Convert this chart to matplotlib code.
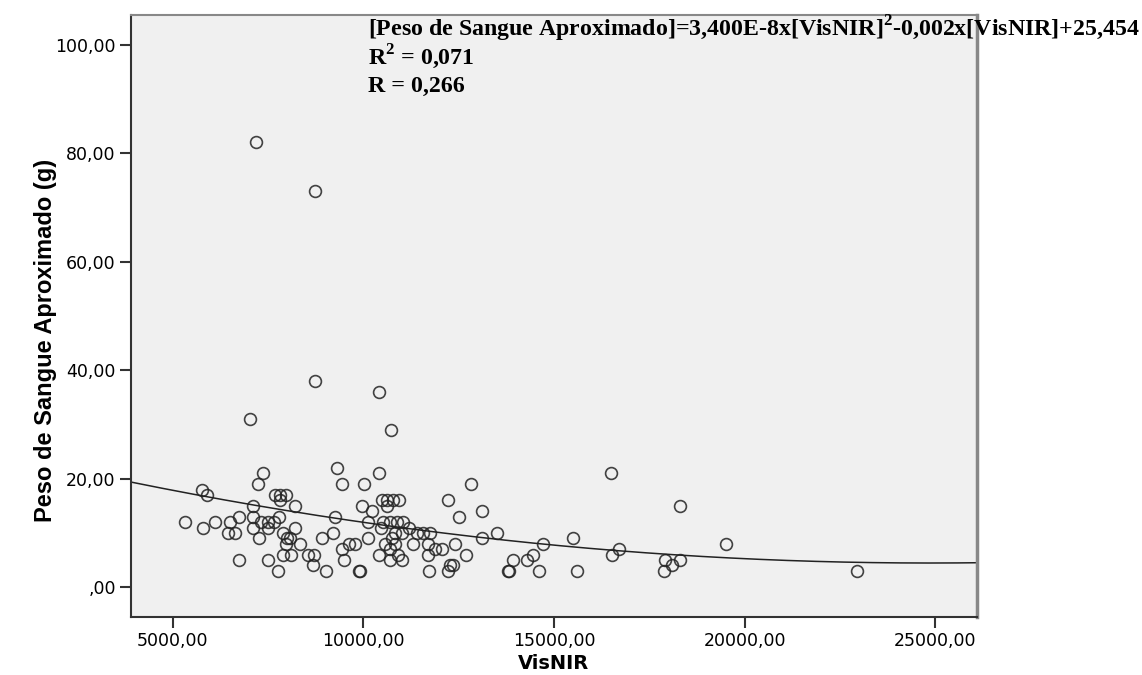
import numpy as np
import matplotlib
matplotlib.use("Agg")
from matplotlib import pyplot as plt
from matplotlib.ticker import FuncFormatter

# data (VisNIR vs blood weight in g)
visnir = [
    7180, 8727, 8719, 10407, 7013, 10713, 9304, 7370, 10407, 7223,
    9444, 10013, 5753, 5900, 7669, 7808, 7958, 7808, 8194, 7108,
    9969, 10494, 10625, 10766, 10924, 10625, 10231, 9252, 10110, 6724,
    7108, 7790, 5315, 6110, 6496, 7318, 7501, 7651, 10516, 10696,
    10871, 11045, 5796, 7108, 7501, 8194, 10472, 11199, 6444, 6619,
    7877, 9199, 10827, 11002, 11394, 11569, 11745, 7257, 7984, 8071,
    8902, 10110, 10740, 7966, 8341, 9628, 9777, 10565, 10827, 11307,
    11701, 9444, 10696, 11877, 7877, 8087, 8551, 8701, 10399, 10913,
    11701, 6724, 7483, 8666, 9496, 10696, 11002, 7748, 9008, 9891,
    9920, 11711, 12813, 12218, 13102, 12514, 16496, 18307, 13496, 13102,
    15499, 14724, 16706, 12402, 12052, 12703, 16522, 14462, 13921, 14304,
    17913, 18307, 12270, 12357, 18105, 12226, 13801, 13830, 14606, 15604,
    17896, 19514, 22944,
]
peso = [
    82, 73, 38, 36, 31, 29, 22, 21, 21, 19,
    19, 19, 18, 17, 17, 17, 17, 16, 15, 15,
    15, 16, 16, 16, 16, 15, 14, 13, 12, 13,
    13, 13, 12, 12, 12, 12, 12, 12, 12, 12,
    12, 12, 11, 11, 11, 11, 11, 11, 10, 10,
    10, 10, 10, 10, 10, 10, 10, 9, 9, 9,
    9, 9, 9, 8, 8, 8, 8, 8, 8, 8,
    8, 7, 7, 7, 6, 6, 6, 6, 6, 6,
    6, 5, 5, 4, 5, 5, 5, 3, 3, 3,
    3, 3, 19, 16, 14, 13, 21, 15, 10, 9,
    9, 8, 7, 8, 7, 6, 6, 6, 5, 5,
    5, 5, 4, 4, 4, 3, 3, 3, 3, 3,
    3, 8, 3,
]

# quadratic fit shown in the chart
fit_a = 3.4e-8
fit_b = -1.69e-3
fit_c = 25.454

x_ticks = [5000, 10000, 15000, 20000, 25000]
y_ticks = [0, 20, 40, 60, 80, 100]

plt.rcParams['mathtext.fontset'] = 'custom'
plt.rcParams['mathtext.rm'] = 'Liberation Serif:bold'
plt.rcParams['mathtext.bf'] = 'Liberation Serif:bold'

fig = plt.figure(figsize=(11.42, 6.75), dpi=100)
ax = fig.add_axes([131 / 1142, 58 / 675, 846 / 1142, 602 / 675])
ax.set_facecolor('#f0f0f0')

ax.plot(visnir, peso, 'o', markerfacecolor='none', markeredgecolor='#222222',
        markersize=8.5, markeredgewidth=1.2, alpha=0.85)

xs = np.linspace(3900, 26100, 300)
ax.plot(xs, fit_a * xs ** 2 + fit_b * xs + fit_c, color='#222222', lw=1.1)

ax.set_xlim(3900, 26100)
ax.set_ylim(-5.5, 105.5)
ax.set_xticks(x_ticks)
ax.set_yticks(y_ticks)


def comma_fmt(v, pos):
    s = f"{v:.2f}".replace('.', ',')
    if s.startswith('0,'):
        s = s[1:]
    return s


ax.xaxis.set_major_formatter(FuncFormatter(comma_fmt))
ax.yaxis.set_major_formatter(FuncFormatter(comma_fmt))
ax.tick_params(direction='out', length=8, width=1.5, color='#333333',
               labelsize=12.5, pad=3)

for side in ['left', 'bottom']:
    ax.spines[side].set_color('#333333')
    ax.spines[side].set_linewidth(1.5)
ax.spines['top'].set_color('#888888')
ax.spines['top'].set_linewidth(1.5)
ax.spines['right'].set_color('#888888')
ax.spines['right'].set_linewidth(2.5)

ax.set_xlabel('VisNIR', fontsize=14, fontweight='bold')
ax.xaxis.set_label_coords(0.5, -0.062)
ax.set_ylabel('Peso de Sangue Aproximado (g)', fontsize=17, fontweight='bold',
              family=['Liberation Sans Narrow', 'Liberation Sans', 'DejaVu Sans'])
ax.yaxis.set_label_coords(-0.088, 0.46)

serif = dict(family='Liberation Serif', fontweight='bold', fontsize=17.2, color='black')
fig.text(368 / 1142, 1 - 36 / 675,
         r'[Peso de Sangue Aproximado]=3,400E-8x[VisNIR]$^{2}$-0,002x[VisNIR]+25,454',
         va='baseline', **serif)
fig.text(368 / 1142, 1 - 64 / 675, r'R$^{2}$ = 0,071', va='baseline', **serif)
fig.text(368 / 1142, 1 - 92 / 675, 'R = 0,266', va='baseline', **serif)

plt.savefig('out.png', dpi=100)
